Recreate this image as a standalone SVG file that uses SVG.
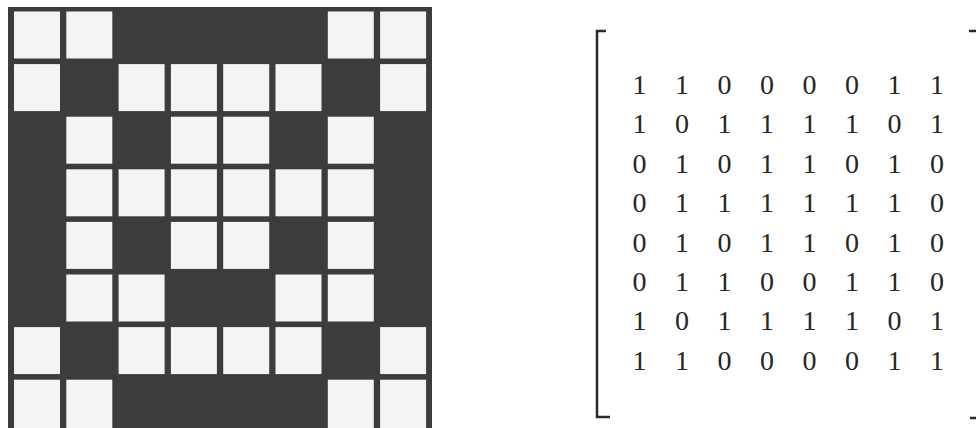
<svg xmlns="http://www.w3.org/2000/svg" width="976" height="428" viewBox="0 0 976 428">
<style>
.bg{fill:#3c3c3c}
.c{fill:#f4f4f4}
.d{font-family:"Liberation Serif","DejaVu Serif",serif;font-size:28px;fill:#262626;text-anchor:middle}
.br{fill:none;stroke:#2a2a2a;stroke-width:2.5}
</style>
<rect width="976" height="428" fill="#ffffff"/>
<g id="grid">
<rect class="bg" x="8" y="7" width="424" height="421"/>
<g id="cells">
<!-- row 1: 1 1 0 0 0 0 1 1 -->
<rect class="c" x="14" y="11.5" width="46" height="47"/>
<rect class="c" x="66.3" y="11.5" width="46" height="47"/>
<rect class="c" x="327.8" y="11.5" width="46" height="47"/>
<rect class="c" x="380.1" y="11.5" width="46" height="47"/>
<!-- row 2: 1 0 1 1 1 1 0 1 -->
<rect class="c" x="14" y="64.1" width="46" height="47"/>
<rect class="c" x="118.6" y="64.1" width="46" height="47"/>
<rect class="c" x="170.9" y="64.1" width="46" height="47"/>
<rect class="c" x="223.2" y="64.1" width="46" height="47"/>
<rect class="c" x="275.5" y="64.1" width="46" height="47"/>
<rect class="c" x="380.1" y="64.1" width="46" height="47"/>
<!-- row 3: 0 1 0 1 1 0 1 0 -->
<rect class="c" x="66.3" y="116.7" width="46" height="47"/>
<rect class="c" x="170.9" y="116.7" width="46" height="47"/>
<rect class="c" x="223.2" y="116.7" width="46" height="47"/>
<rect class="c" x="327.8" y="116.7" width="46" height="47"/>
<!-- row 4: 0 1 1 1 1 1 1 0 -->
<rect class="c" x="66.3" y="169.3" width="46" height="47"/>
<rect class="c" x="118.6" y="169.3" width="46" height="47"/>
<rect class="c" x="170.9" y="169.3" width="46" height="47"/>
<rect class="c" x="223.2" y="169.3" width="46" height="47"/>
<rect class="c" x="275.5" y="169.3" width="46" height="47"/>
<rect class="c" x="327.8" y="169.3" width="46" height="47"/>
<!-- row 5: 0 1 0 1 1 0 1 0 -->
<rect class="c" x="66.3" y="221.9" width="46" height="47"/>
<rect class="c" x="170.9" y="221.9" width="46" height="47"/>
<rect class="c" x="223.2" y="221.9" width="46" height="47"/>
<rect class="c" x="327.8" y="221.9" width="46" height="47"/>
<!-- row 6: 0 1 1 0 0 1 1 0 -->
<rect class="c" x="66.3" y="274.5" width="46" height="47"/>
<rect class="c" x="118.6" y="274.5" width="46" height="47"/>
<rect class="c" x="275.5" y="274.5" width="46" height="47"/>
<rect class="c" x="327.8" y="274.5" width="46" height="47"/>
<!-- row 7: 1 0 1 1 1 1 0 1 -->
<rect class="c" x="14" y="327.1" width="46" height="47"/>
<rect class="c" x="118.6" y="327.1" width="46" height="47"/>
<rect class="c" x="170.9" y="327.1" width="46" height="47"/>
<rect class="c" x="223.2" y="327.1" width="46" height="47"/>
<rect class="c" x="275.5" y="327.1" width="46" height="47"/>
<rect class="c" x="380.1" y="327.1" width="46" height="47"/>
<!-- row 8: 1 1 0 0 0 0 1 1 -->
<rect class="c" x="14" y="379.7" width="46" height="49"/>
<rect class="c" x="66.3" y="379.7" width="46" height="49"/>
<rect class="c" x="327.8" y="379.7" width="46" height="49"/>
<rect class="c" x="380.1" y="379.7" width="46" height="49"/>
</g>
</g>
<g id="matrix">
<path class="br" d="M606 31 H597 V417 H610"/>
<path class="br" d="M969 31 H976 M970 418 H976"/>
<g id="r1">
<text class="d" x="639.5" y="94">1</text><text class="d" x="682" y="94">1</text><text class="d" x="724.5" y="94">0</text><text class="d" x="767" y="94">0</text><text class="d" x="809.5" y="94">0</text><text class="d" x="852" y="94">0</text><text class="d" x="894.5" y="94">1</text><text class="d" x="937" y="94">1</text>
</g>
<g id="r2">
<text class="d" x="639.5" y="133.4">1</text><text class="d" x="682" y="133.4">0</text><text class="d" x="724.5" y="133.4">1</text><text class="d" x="767" y="133.4">1</text><text class="d" x="809.5" y="133.4">1</text><text class="d" x="852" y="133.4">1</text><text class="d" x="894.5" y="133.4">0</text><text class="d" x="937" y="133.4">1</text>
</g>
<g id="r3">
<text class="d" x="639.5" y="172.8">0</text><text class="d" x="682" y="172.8">1</text><text class="d" x="724.5" y="172.8">0</text><text class="d" x="767" y="172.8">1</text><text class="d" x="809.5" y="172.8">1</text><text class="d" x="852" y="172.8">0</text><text class="d" x="894.5" y="172.8">1</text><text class="d" x="937" y="172.8">0</text>
</g>
<g id="r4">
<text class="d" x="639.5" y="212.2">0</text><text class="d" x="682" y="212.2">1</text><text class="d" x="724.5" y="212.2">1</text><text class="d" x="767" y="212.2">1</text><text class="d" x="809.5" y="212.2">1</text><text class="d" x="852" y="212.2">1</text><text class="d" x="894.5" y="212.2">1</text><text class="d" x="937" y="212.2">0</text>
</g>
<g id="r5">
<text class="d" x="639.5" y="251.6">0</text><text class="d" x="682" y="251.6">1</text><text class="d" x="724.5" y="251.6">0</text><text class="d" x="767" y="251.6">1</text><text class="d" x="809.5" y="251.6">1</text><text class="d" x="852" y="251.6">0</text><text class="d" x="894.5" y="251.6">1</text><text class="d" x="937" y="251.6">0</text>
</g>
<g id="r6">
<text class="d" x="639.5" y="291">0</text><text class="d" x="682" y="291">1</text><text class="d" x="724.5" y="291">1</text><text class="d" x="767" y="291">0</text><text class="d" x="809.5" y="291">0</text><text class="d" x="852" y="291">1</text><text class="d" x="894.5" y="291">1</text><text class="d" x="937" y="291">0</text>
</g>
<g id="r7">
<text class="d" x="639.5" y="330.4">1</text><text class="d" x="682" y="330.4">0</text><text class="d" x="724.5" y="330.4">1</text><text class="d" x="767" y="330.4">1</text><text class="d" x="809.5" y="330.4">1</text><text class="d" x="852" y="330.4">1</text><text class="d" x="894.5" y="330.4">0</text><text class="d" x="937" y="330.4">1</text>
</g>
<g id="r8">
<text class="d" x="639.5" y="369.8">1</text><text class="d" x="682" y="369.8">1</text><text class="d" x="724.5" y="369.8">0</text><text class="d" x="767" y="369.8">0</text><text class="d" x="809.5" y="369.8">0</text><text class="d" x="852" y="369.8">0</text><text class="d" x="894.5" y="369.8">1</text><text class="d" x="937" y="369.8">1</text>
</g>
</g>
</svg>
